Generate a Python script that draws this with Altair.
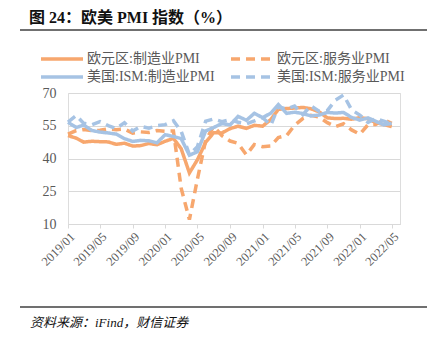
import altair as alt
import pandas as pd

months = pd.date_range("2019-01-01", "2022-05-01", freq="MS").strftime("%Y-%m-%d").tolist()

eu_mfg = [50.5, 49.3, 47.5, 47.9, 47.7, 47.6, 46.5, 47.0, 45.7, 45.9, 46.9, 46.3,
          47.9, 49.2, 44.5, 33.4, 39.4, 47.4, 51.8, 51.7, 53.7, 54.8, 53.8, 55.2,
          54.8, 57.9, 62.5, 62.9, 63.1, 63.4, 62.8, 61.4, 58.6, 58.3, 58.4, 58.0,
          58.7, 58.2, 56.5, 55.5, 54.6]
eu_svc = [51.2, 52.8, 53.3, 52.8, 52.9, 53.6, 53.2, 53.5, 51.6, 52.2, 51.9, 52.8,
          52.5, 52.6, 26.4, 12.0, 30.5, 48.3, 54.7, 50.5, 48.0, 46.9, 41.7, 46.4,
          45.4, 45.7, 49.6, 50.5, 55.2, 58.3, 59.8, 59.0, 56.4, 54.6, 55.9, 53.1,
          51.1, 55.5, 55.6, 57.7, 56.1]
us_mfg = [56.6, 54.2, 55.3, 52.8, 52.1, 51.7, 51.2, 49.1, 47.8, 48.3, 48.1, 47.2,
          50.9, 50.1, 49.1, 41.5, 43.1, 52.6, 54.2, 56.0, 55.4, 59.3, 57.5, 60.7,
          58.7, 60.8, 64.7, 60.7, 61.2, 60.6, 59.5, 59.9, 61.1, 60.8, 61.1, 58.8,
          57.6, 58.6, 57.1, 55.4, 56.1]
us_svc = [56.7, 59.7, 56.1, 55.5, 56.9, 55.1, 53.7, 56.4, 52.6, 54.7, 53.9, 55.0,
          55.5, 57.3, 52.5, 41.8, 45.4, 57.1, 58.1, 56.9, 57.8, 56.6, 55.9, 57.2,
          58.7, 55.3, 63.7, 62.7, 64.0, 60.1, 64.1, 61.7, 61.9, 66.7, 69.1, 62.3,
          59.9, 56.5, 58.3, 57.1, 55.9]

series_names = ["欧元区:制造业PMI", "欧元区:服务业PMI", "美国:ISM:制造业PMI", "美国:ISM:服务业PMI"]
series_colors = ["#F7A76E", "#F7A76E", "#A6C3E4", "#A6C3E4"]
series_dash = [[1, 0], [9, 6], [1, 0], [9, 6]]
y_ticks = [10, 25, 40, 55, 70]
x_ticks = ["2019-01-01", "2019-05-01", "2019-09-01", "2020-01-01", "2020-05-01", "2020-09-01",
           "2021-01-01", "2021-05-01", "2021-09-01", "2022-01-01", "2022-05-01"]

title_text = "图 24：欧美 PMI 指数（%）"
source_text = "资料来源：iFind，财信证券"

rows = []
for name, vals in zip(series_names, [eu_mfg, eu_svc, us_mfg, us_svc]):
    for m, v in zip(months, vals):
        rows.append({"month": m, "value": v, "series": name})
df = pd.DataFrame(rows)

FONT = "Liberation Serif, Noto Sans CJK SC"
W, H = 332, 131

x_enc = alt.X("month:T", title=None,
              scale=alt.Scale(domain=["2019-01-01", "2022-06-01"]),
              axis=alt.Axis(values=x_ticks, format="%Y/%m", labelAngle=-45,
                            labelAlign="right", labelBaseline="top",
                            labelOverlap=False, labelBound=False, labelFlush=False,
                            labelFont=FONT, labelFontSize=12.5, labelColor="#595959",
                            domainColor="#D9D9D9", tickColor="#D9D9D9", tickSize=4,
                            grid=False, labelPadding=2))
y_enc = alt.Y("value:Q", title=None,
              scale=alt.Scale(domain=[10, 70], nice=False),
              axis=alt.Axis(values=y_ticks, labelFont=FONT, labelFontSize=14,
                            labelColor="#595959", domain=False, ticks=False,
                            gridColor="#D9D9D9", gridWidth=1, labelPadding=12))

legend_cfg = dict(title=None, orient="none", legendX=-15, legendY=-43,
                  columns=2, direction="horizontal",
                  symbolType="M-3,0H3", symbolSize=196,
                  symbolStrokeWidth=3.5, labelFont=FONT,
                  labelFontSize=14, labelColor="#595959",
                  columnPadding=9, rowPadding=2, labelOffset=16,
                  labelLimit=200)

lines = alt.Chart(df).mark_line(strokeWidth=3.5).encode(
    x=x_enc, y=y_enc,
    color=alt.Color("series:N", sort=series_names,
                    scale=alt.Scale(domain=series_names, range=series_colors),
                    legend=alt.Legend(**legend_cfg)),
    strokeDash=alt.StrokeDash("series:N", sort=series_names,
                              scale=alt.Scale(domain=series_names, range=series_dash),
                              legend=alt.Legend(**legend_cfg)),
    order=alt.Order("series:N"),
)

deco = pd.DataFrame({"k": [0]})
top_rule = alt.Chart(deco).mark_rule(color="#404040", strokeWidth=1.5).encode(
    x=alt.value(-48), x2=alt.value(359), y=alt.value(-63))
bottom_rule = alt.Chart(deco).mark_rule(color="#404040", strokeWidth=1.5).encode(
    x=alt.value(-48), x2=alt.value(359), y=alt.value(214))
title = alt.Chart(deco).mark_text(align="left", baseline="alphabetic", fontSize=16,
                                  fontWeight="bold", font=FONT,
                                  color="#111111").encode(
    x=alt.value(-39), y=alt.value(-70), text=alt.value(title_text))
source = alt.Chart(deco).mark_text(align="left", baseline="alphabetic", fontSize=13,
                                   fontStyle="italic", font=FONT, color="#111111").encode(
    x=alt.value(-38), y=alt.value(234), text=alt.value(source_text))

chart = alt.layer(lines, top_rule, bottom_rule, title, source).properties(
    width=W, height=H,
    autosize=alt.AutoSizeParams(type="none"),
    padding={"left": 68, "top": 93, "right": 32, "bottom": 119},
).configure_view(stroke=None).configure(background="white")

chart.save("out.html", embed_options={"renderer": "svg", "actions": False})
